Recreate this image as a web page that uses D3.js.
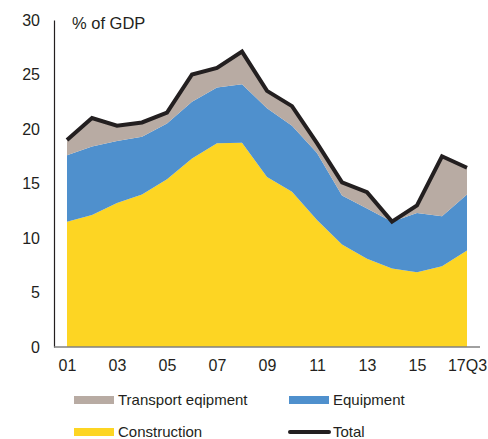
<!DOCTYPE html>
<html>
<head>
<meta charset="utf-8">
<script src="https://cdn.jsdelivr.net/npm/d3@7"></script>
<style>
  body { margin: 0; background: #fff; }
  svg { display: block; font-family: "Liberation Sans", Arial, sans-serif; }
</style>
</head>
<body>
<svg id="chart"></svg>
<script>
const width = 488;
const height = 439;

// --- Data (% of GDP) ---
const years = ["01","02","03","04","05","06","07","08","09","10","11","12","13","14","15","16","17Q3"];
const tickLabels = ["01","03","05","07","09","11","13","15","17Q3"];
const construction = [11.5, 12.1, 13.2, 14.0, 15.4, 17.3, 18.7, 18.75, 15.6, 14.25, 11.65, 9.4, 8.1, 7.2, 6.85, 7.4, 8.85];
const equipment    = [6.1, 6.3, 5.7, 5.3, 5.1, 5.2, 5.1, 5.35, 6.3, 6.05, 6.15, 4.5, 4.6, 4.3, 5.45, 4.6, 5.15];
const transport    = [1.4, 2.6, 1.4, 1.3, 1.0, 2.5, 1.8, 3.0, 1.6, 1.8, 0.9, 1.2, 1.5, 0.0, 0.7, 5.5, 2.45];
const total        = [19.0, 21.0, 20.3, 20.6, 21.5, 25.0, 25.6, 27.1, 23.5, 22.1, 18.7, 15.1, 14.2, 11.5, 13.0, 17.5, 16.45];
const yTicks = [0, 5, 10, 15, 20, 25, 30];

const colors = {
  construction: "#fdd523",
  equipment: "#4f90cd",
  transport: "#b8aba3",
  total: "#231f20"
};

const svg = d3.select("#chart")
  .attr("width", width)
  .attr("height", height);

// --- Scales ---
const x = d3.scalePoint()
  .domain(years)
  .range([67, 467]);

const y = d3.scaleLinear()
  .domain([0, 30])
  .range([347, 20]);

// --- Stack ---
const rows = years.map((yr, i) => ({
  year: yr,
  construction: construction[i],
  equipment: equipment[i],
  transport: transport[i]
}));

const keys = ["construction", "equipment", "transport"];
const series = d3.stack().keys(keys)(rows);

const area = d3.area()
  .x(d => x(d.data.year))
  .y0(d => y(d[0]))
  .y1(d => y(d[1]));

svg.append("g")
  .selectAll("path")
  .data(series)
  .join("path")
  .attr("fill", d => colors[d.key])
  .attr("d", area);

// Total line
const line = d3.line()
  .x((d, i) => x(years[i]))
  .y(d => y(d));

svg.append("path")
  .datum(total)
  .attr("fill", "none")
  .attr("stroke", colors.total)
  .attr("stroke-width", 4)
  .attr("stroke-linejoin", "miter")
  .attr("d", line);

// --- Axes ---
const yAxis = svg.append("g")
  .attr("transform", "translate(54,0)")
  .call(d3.axisLeft(y).tickValues(yTicks).tickSize(0).tickPadding(14));
yAxis.select(".domain").attr("stroke", "#231f20").attr("stroke-width", 1.2);
yAxis.selectAll("text")
  .attr("font-size", 16)
  .attr("fill", "#231f20")
  .attr("font-family", "Liberation Sans, Arial, sans-serif");

const xAxis = svg.append("g")
  .attr("transform", "translate(0,347)")
  .call(d3.axisBottom(x).tickValues(tickLabels).tickSize(0).tickPadding(13));
xAxis.select(".domain")
  .attr("d", "M54,0H480")
  .attr("stroke", "#808080")
  .attr("stroke-width", 1.5);
xAxis.selectAll("text")
  .attr("font-size", 16)
  .attr("fill", "#231f20")
  .attr("font-family", "Liberation Sans, Arial, sans-serif");

svg.append("text")
  .attr("x", 72)
  .attr("y", 29)
  .attr("font-size", 16.5)
  .attr("fill", "#231f20")
  .text("% of GDP");

// --- Legend ---
const legendItems = [
  { key: "transport", label: "Transport eqipment", x: 74, y: 400, type: "rect" },
  { key: "equipment", label: "Equipment", x: 289, y: 400, type: "rect" },
  { key: "construction", label: "Construction", x: 74, y: 432, type: "rect" },
  { key: "total", label: "Total", x: 289, y: 432, type: "line" }
];

const gLegend = svg.append("g");
legendItems.forEach(it => {
  if (it.type === "rect") {
    gLegend.append("rect")
      .attr("x", it.x)
      .attr("y", it.y - 4)
      .attr("width", 40)
      .attr("height", 8)
      .attr("fill", colors[it.key]);
  } else {
    gLegend.append("line")
      .attr("x1", it.x + 1)
      .attr("x2", it.x + 40)
      .attr("y1", it.y)
      .attr("y2", it.y)
      .attr("stroke", colors[it.key])
      .attr("stroke-width", 4)
      .attr("stroke-linecap", "round");
  }
  gLegend.append("text")
    .attr("x", it.x + 44)
    .attr("y", it.y)
    .attr("dy", "0.33em")
    .attr("font-size", 15)
    .attr("fill", "#231f20")
    .text(it.label);
});
</script>
</body>
</html>
